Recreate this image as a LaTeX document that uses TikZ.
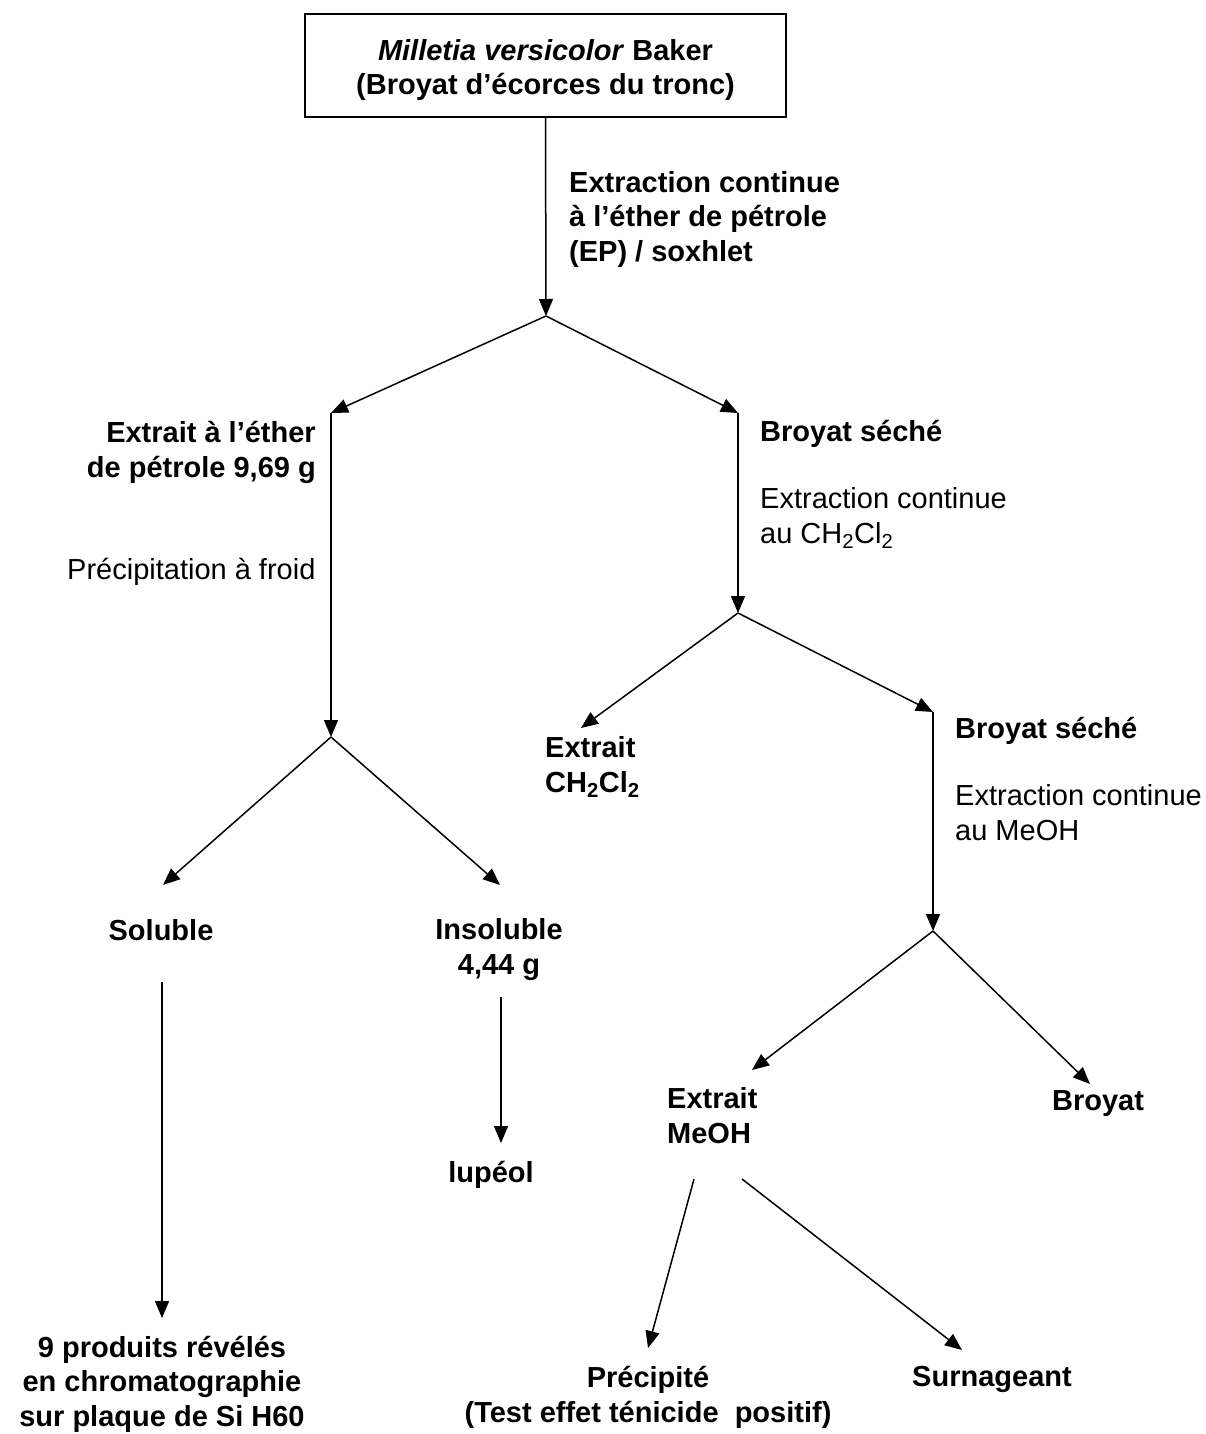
\documentclass[tikz,border=0pt]{standalone}
\usepackage{fontspec}
\setmainfont{Liberation Sans}
\usetikzlibrary{arrows.meta}
\begin{document}
\begin{tikzpicture}[x=1pt,y=-1pt,
  every node/.style={inner sep=0pt,font=\fontsize{29}{34.5}\selectfont},
  lbl/.style={font=\fontsize{29}{34.5}\selectfont\bfseries},
  plain/.style={font=\fontsize{29}{34.5}\selectfont},
  conn/.style={line width=1.5pt,-{Triangle[length=17pt,width=14pt]}}]
\useasboundingbox (0,0) rectangle (1206,1434);
% top box
\node[draw,line width=1.5pt,minimum width=481pt,minimum height=103pt] (top) at (545.5,65.5) {};
\node[lbl,anchor=base,align=center] (toptxt) at (545.5,95)
  {\textit{Milletia versicolor} Baker\\(Broyat d’écorces du tronc)};
% coordinates
\coordinate (s1) at (546,316);
\coordinate (a1) at (331,413);
\coordinate (a2) at (738,413);
\coordinate (s2) at (331,737);
\coordinate (s3) at (738,613);
\coordinate (a3) at (163,885);
\coordinate (a4) at (500,885);
\coordinate (a5) at (581,728);
\coordinate (a6) at (933,712);
\coordinate (s4) at (933,931);
\coordinate (a7) at (752,1070);
\coordinate (a8) at (1090,1084);
\coordinate (b1) at (162,982);
\coordinate (b2) at (162,1318);
\coordinate (b3) at (501,997);
\coordinate (b4) at (501,1143);
\coordinate (b5) at (694,1179);
\coordinate (b6) at (648,1348);
\coordinate (b7) at (742,1179);
\coordinate (b8) at (962,1350);
% connectors
\draw[conn] (top.south) -- (s1);
\draw[conn] (s1) -- (a1);
\draw[conn] (s1) -- (a2);
\draw[conn] (a1) -- (s2);
\draw[conn] (a2) -- (s3);
\draw[conn] (s2) -- (a3);
\draw[conn] (s2) -- (a4);
\draw[conn] (s3) -- (a5);
\draw[conn] (s3) -- (a6);
\draw[conn] (a6) -- (s4);
\draw[conn] (s4) -- (a7);
\draw[conn] (s4) -- (a8);
\draw[conn] (b1) -- (b2);
\draw[conn] (b3) -- (b4);
\draw[conn] (b5) -- (b6);
\draw[conn] (b7) -- (b8);
% labels (multi-line nodes: base = last line)
\node[lbl,anchor=base west,align=left] (ext1) at (569,261)
  {Extraction continue\\à l’éther de pétrole\\(EP) / soxhlet};
\node[lbl,anchor=base east,align=right] (ep) at (316,477)
  {Extrait à l’éther\\de pétrole 9,69 g};
\node[lbl,anchor=base west] (bs1) at (760,441) {Broyat séché};
\node[plain,anchor=base west,align=left] (ext2) at (760,543)
  {Extraction continue\\au CH\textsubscript{2}Cl\textsubscript{2}};
\node[plain,anchor=base west] (prec) at (67,579) {Précipitation à froid};
\node[lbl,anchor=base west,align=left] (exdcm) at (545,792)
  {Extrait\\CH\textsubscript{2}Cl\textsubscript{2}};
\node[lbl,anchor=base west] (bs2) at (955,738) {Broyat séché};
\node[plain,anchor=base west,align=left] (ext3) at (955,840)
  {Extraction continue\\au MeOH};
\node[lbl,anchor=base] (sol) at (161,940) {Soluble};
\node[lbl,anchor=base,align=center] (insol) at (499,974) {Insoluble\\4,44 g};
\node[lbl,anchor=base] (lup) at (491,1182) {lupéol};
\node[lbl,anchor=base west,align=left] (exmeoh) at (667,1143) {Extrait\\MeOH};
\node[lbl,anchor=base] (broyat) at (1098,1110) {Broyat};
\node[lbl,anchor=base,align=center] (prod) at (162,1426)
  {9 produits révélés\\en chromatographie\\sur plaque de Si H60};
\node[lbl,anchor=base,align=center] (preci) at (648,1422)
  {Précipité\\(Test effet ténicide\ \ positif)};
\node[lbl,anchor=base] (surn) at (992,1386) {Surnageant};
\end{tikzpicture}
\end{document}
